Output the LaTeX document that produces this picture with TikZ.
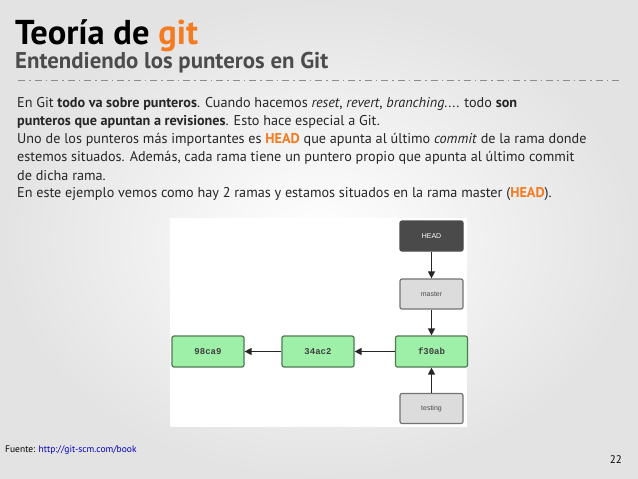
\documentclass[tikz,border=0pt]{standalone}
\usepackage{fontspec}
\setmainfont{PT Sans}
\newfontfamily\mono{Liberation Mono}
\newfontfamily\hsans{Liberation Sans}
\usetikzlibrary{arrows.meta}
\definecolor{gorange}{HTML}{F47B20}
\definecolor{ggreen}{HTML}{9EF0A8}
\definecolor{ggreenb}{HTML}{4E7A52}
\definecolor{glight}{HTML}{DCDCDC}
\definecolor{gdark}{HTML}{4A4A4A}
\tikzset{
  body/.style={anchor=west,inner sep=0pt,font=\fontsize{14.2}{16}\selectfont,text=black!85},
  commit/.style={draw=ggreenb,line width=1.2pt,fill=ggreen,rounded corners=2pt,minimum width=72pt,minimum height=31pt,font=\mono\bfseries\fontsize{9}{10}\selectfont,text=black!75},
  ptr/.style={draw=black!55,line width=1.2pt,fill=glight,rounded corners=2pt,minimum width=63pt,minimum height=30pt,font=\hsans\fontsize{7}{8}\selectfont,text=black!70},
  arr/.style={-{Triangle[length=7pt,width=7pt]},line width=1.3pt,black!85}
}
\begin{document}
\begin{tikzpicture}[x=1pt,y=-1pt]
\shade[inner color=white,outer color=gray!22] (0,0) rectangle (638,479);
\useasboundingbox (0,0) rectangle (638,479);
\node[anchor=base west,inner sep=0pt,font=\bfseries\fontsize{34.5}{36}\selectfont] (t) at (15,45) {Teoría de \textcolor{gorange}{git}};
\node[anchor=base west,inner sep=0pt,font=\bfseries\fontsize{22.8}{24}\selectfont,text=black!70] (st) at (15,68) {Entendiendo los punteros en Git};
\draw[black!45,line width=1pt,dash pattern=on 7pt off 4pt on 1.5pt off 4pt] (18,80) -- (622,80);
\node[body] (l1) at (17,104) {En Git \textbf{todo va sobre punteros}. Cuando hacemos \textit{reset}, \textit{revert}, \textit{branching}.... todo \textbf{son}};
\node[body] (l2) at (17,122) {\textbf{punteros que apuntan a revisiones}. Esto hace especial a Git.};
\node[body] (l3) at (17,140) {Uno de los punteros más importantes es \textbf{\textcolor{gorange}{HEAD}} que apunta al último \textit{commit} de la rama donde};
\node[body] (l4) at (17,158) {estemos situados. Además, cada rama tiene un puntero propio que apunta al último commit};
\node[body] (l5) at (17,176) {de dicha rama.};
\node[body] (l6) at (17,194) {En este ejemplo vemos como hay 2 ramas y estamos situados en la rama master (\textbf{\textcolor{gorange}{HEAD}}).};
\fill[white] (170,218) rectangle (467,427);
\node[ptr,fill=gdark,draw=black!70,text=white] (head) at (431.5,236) {HEAD};
\node[ptr] (master) at (431.5,294) {master};
\node[commit] (f30) at (431.5,351.5) {f30ab};
\node[commit] (c34) at (318,351.5) {34ac2};
\node[commit] (c98) at (208,351.5) {98ca9};
\node[ptr] (testing) at (431.5,408.5) {testing};
\draw[arr] (head) -- (master);
\draw[arr] (master) -- (f30);
\draw[arr] (testing) -- (f30);
\draw[arr] (f30) -- (c34);
\draw[arr] (c34) -- (c98);
\node[anchor=west,inner sep=0pt,font=\fontsize{9.5}{10}\selectfont] (src) at (5,450) {Fuente: \textcolor{blue!75!black}{http://git-scm.com/book}};
\node[anchor=east,inner sep=0pt,font=\fontsize{11}{12}\selectfont] (pg) at (622,460) {22};
\end{tikzpicture}
\end{document}
